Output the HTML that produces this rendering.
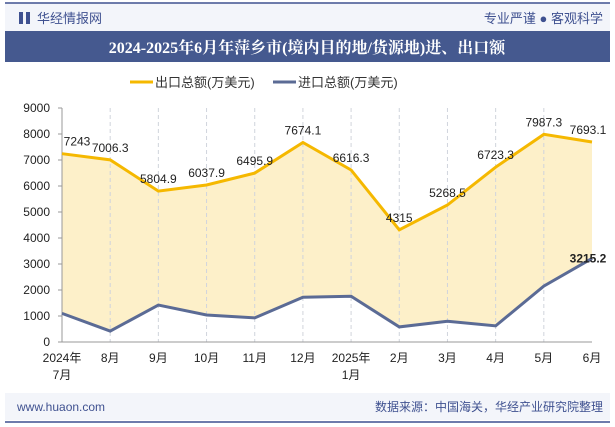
<!DOCTYPE html>
<html><head><meta charset="utf-8"><style>
body{margin:0;width:615px;height:427px;overflow:hidden;background:#fff;font-family:"Liberation Sans","Noto Sans CJK SC",sans-serif}
</style></head><body>
<svg width="615" height="427" style="position:absolute;left:0;top:0">
<rect x="5" y="3" width="605" height="28" fill="#f3f5fa"/>
<line x1="5" y1="3" x2="610" y2="3" stroke="#3f5190" stroke-width="1.5"/>
<rect x="19" y="12" width="4" height="12" fill="#3f5190"/><rect x="26" y="12" width="4" height="12" fill="#3f5190"/>
<text x="37" y="23" font-size="13" fill="#3f5190">华经情报网</text>
<text x="603" y="23" font-size="13" fill="#3f5190" text-anchor="end">专业严谨 ● 客观科学</text>
<rect x="5" y="31" width="605" height="31" fill="#45598f"/>
<text x="307" y="53" font-size="16" font-weight="bold" fill="#fff" text-anchor="middle" font-family="Liberation Serif,'Noto Serif CJK SC',serif">2024-2025年6月年萍乡市(境内目的地/货源地)进、出口额</text>
<g>
<line x1="130" y1="82" x2="153" y2="82" stroke="#f5b800" stroke-width="3"/>
<text x="155" y="87" font-size="13" fill="#333">出口总额(万美元)</text>
<line x1="273" y1="82" x2="296" y2="82" stroke="#5b6b95" stroke-width="3"/>
<text x="298" y="87" font-size="13" fill="#333">进口总额(万美元)</text>
</g>
<g id="plot"></g>
<rect x="5" y="393" width="605" height="27" fill="#f3f5fa"/>
<line x1="5" y1="422" x2="610" y2="422" stroke="#3f5190" stroke-width="1.5"/>
<text x="17" y="411" font-size="12" fill="#3f5190">www.huaon.com</text>
<text x="603" y="411" font-size="12" fill="#3f5190" text-anchor="end">数据来源：中国海关，华经产业研究院整理</text>
</svg>
<script>
const categories=["2024年|7月","8月","9月","10月","11月","12月","2025年|1月","2月","3月","4月","5月","6月"];
const exportVals=[7243,7006.3,5804.9,6037.9,6495.9,7674.1,6616.3,4315,5268.5,6723.3,7987.3,7693.1];
const importVals=[1100,420,1420,1040,930,1720,1760,580,800,620,2150,3215.2];
const yTicks=[0,1000,2000,3000,4000,5000,6000,7000,8000,9000];
const NS="http://www.w3.org/2000/svg";
const g=document.getElementById('plot');
const x0=62,x1=592,yb=342,yt=108;
const xs=i=>x0+i*(x1-x0)/(categories.length-1);
const ys=v=>yb-(v/9000)*(yb-yt);
function mk(t,a){const e=document.createElementNS(NS,t);for(const k in a)e.setAttribute(k,a[k]);g.appendChild(e);return e;}
yTicks.forEach(v=>{
 const t=mk('text',{x:x0-12,y:ys(v)+4,'font-size':12,'text-anchor':'end',fill:'#222'});t.textContent=v;
 
 
 mk('line',{x1:x0-4,x2:x0,y1:ys(v),y2:ys(v),stroke:'#999'});
});
let fp=exportVals.map((v,i)=>`${xs(i)},${ys(v)}`).concat(importVals.map((v,i)=>`${xs(i)},${ys(v)}`).reverse()).join(' ');
const area=mk('polygon',{points:fp,fill:'#fdf0c9'});


categories.forEach((c,i)=>{
 if(i>0&&i<categories.length-1){const l=mk('line',{x1:xs(i),x2:xs(i),y1:yt,y2:yb,stroke:'#d0d4dc','stroke-dasharray':'4,3'});}
 c.split('|').forEach((p,j)=>{const t=mk('text',{x:xs(i),y:362+j*17,'font-size':12,'text-anchor':'middle',fill:'#222'});t.textContent=p;
 
 });
});
mk('line',{x1:x0,x2:x1,y1:yb,y2:yb,stroke:'#999'});
mk('line',{x1:x0,x2:x0,y1:yt,y2:yb,stroke:'#999'});
const le=mk('polyline',{points:exportVals.map((v,i)=>`${xs(i)},${ys(v)}`).join(' '),fill:'none',stroke:'#f5b800','stroke-width':3});


const li=mk('polyline',{points:importVals.map((v,i)=>`${xs(i)},${ys(v)}`).join(' '),fill:'none',stroke:'#5b6b95','stroke-width':3});


exportVals.forEach((v,i)=>{
 let x=xs(i);if(i==0)x+=15;if(i==categories.length-1)x-=4;
 const t=mk('text',{x:x,y:ys(v)-8,'font-size':12,'text-anchor':'middle',fill:'#222'});t.textContent=v;
 
 
});
const last=importVals.length-1;
const tl=mk('text',{x:xs(last)-4,y:ys(importVals[last])+4,'font-size':12,'font-weight':'bold','text-anchor':'middle',fill:'#222'});tl.textContent=importVals[last];


</script>
</body></html>
